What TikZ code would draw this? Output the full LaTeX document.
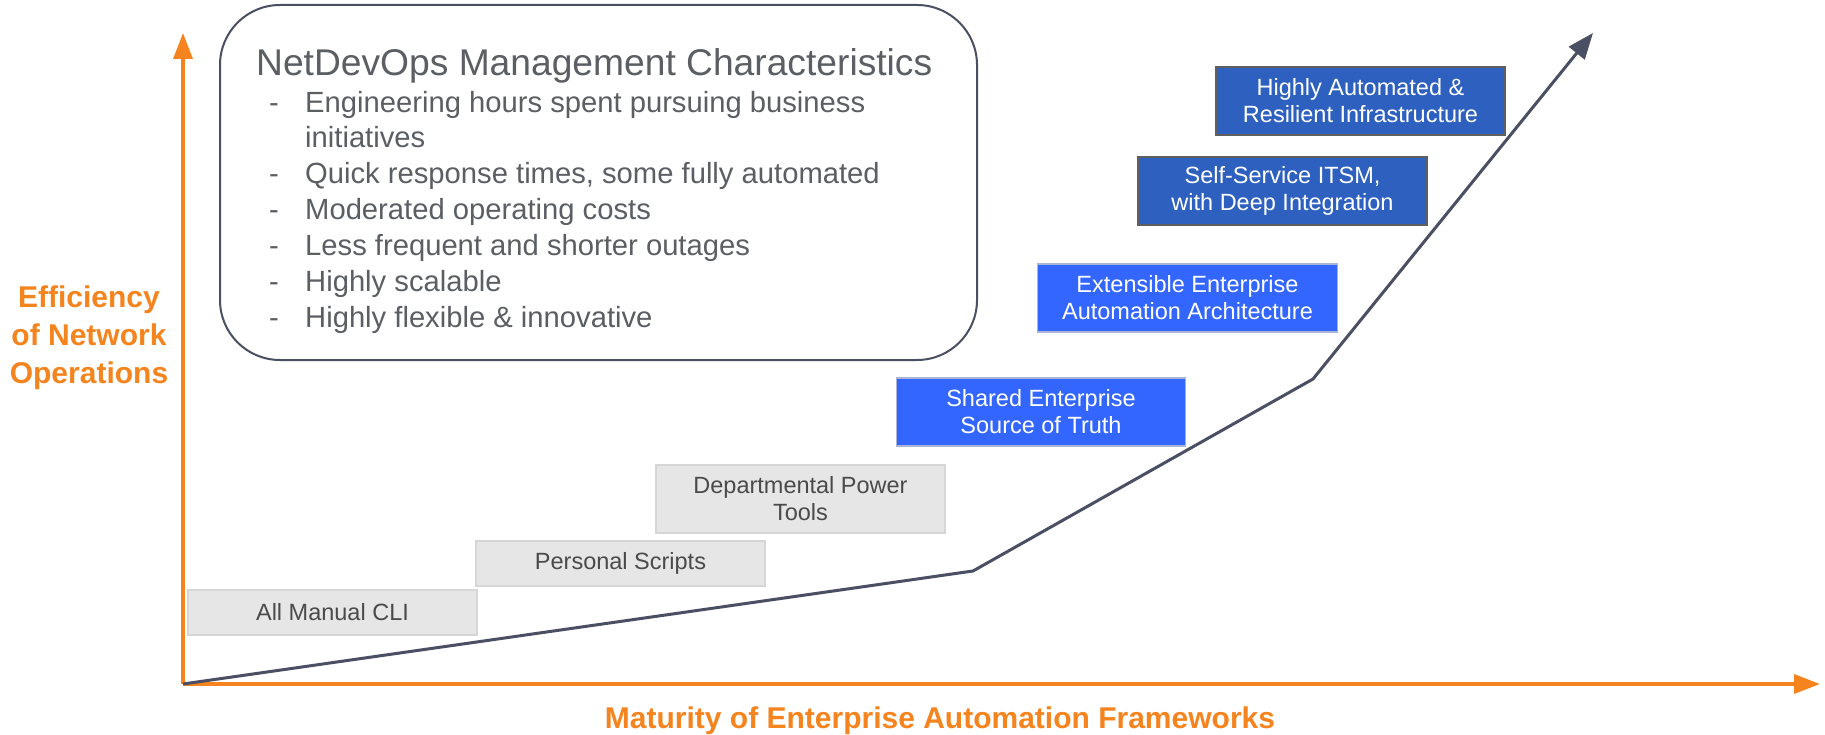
\documentclass[tikz,border=0pt]{standalone}
\usepackage{fontspec}
\setmainfont{Liberation Sans}
\usetikzlibrary{arrows.meta,positioning}
\definecolor{axisorange}{HTML}{F5841F}
\definecolor{curvegray}{HTML}{4B4F63}
\definecolor{textgray}{HTML}{4A4A4A}
\definecolor{listgray}{HTML}{5B5E63}
\definecolor{stagefill}{HTML}{E6E6E6}
\definecolor{stageedge}{HTML}{D6D6D6}
\definecolor{brightblue}{HTML}{3366FF}
\definecolor{brightedge}{HTML}{A9B4D6}
\definecolor{deepblue}{HTML}{2E61BF}
\definecolor{deepedge}{HTML}{5F5F5F}

\begin{document}
\begin{tikzpicture}
  [x=1pt, y=-1pt,
   stage/.style={draw=stageedge, line width=1.5pt, fill=stagefill, text=textgray,
     minimum width=289pt, minimum height=45pt, inner sep=0pt, align=center,
     font=\fontsize{23.5}{27}\selectfont},
   tallstage/.style={stage, minimum height=68pt},
   brightstage/.style={tallstage, fill=brightblue, draw=brightedge, text=white},
   deepstage/.style={tallstage, fill=deepblue, draw=deepedge, text=white},
   charbox/.style={draw=curvegray, line width=2pt, rounded corners=60pt,
     minimum width=757pt, minimum height=355pt},
   axislabel/.style={text=axisorange, inner sep=0pt, align=center,
     font=\bfseries\fontsize{30}{38}\selectfont},
   listtext/.style={text=listgray, inner sep=0pt, font=\fontsize{29.2}{34}\selectfont},
   axis/.style={draw=axisorange, line width=3.5pt, -{Triangle[length=26pt,width=19pt]}},
   curve/.style={draw=curvegray, line width=3pt, -{Triangle[length=26pt,width=20pt]}}]
  \useasboundingbox[fill=white] (0,0) rectangle (1825,735);

  \coordinate (origin) at (183,684);
  \coordinate (ytip) at (183,33);
  \coordinate (xtip) at (1820,684);
  \coordinate (knee1) at (973,571);
  \coordinate (knee2) at (1313,379);
  \coordinate (ctip) at (1593,33);

  \node[charbox] (chars) at (598.5,182.5) {};
  \node[listtext, anchor=base west, font=\fontsize{37.2}{40}\selectfont] (title) at (256,76)
    {NetDevOps Management Characteristics};
  \foreach \txt/\y [count=\i] in {{Engineering hours spent pursuing business}/112.5,
      {Quick response times, some fully automated}/184,
      {Moderated operating costs}/219.8,
      {Less frequent and shorter outages}/255.6,
      {Highly scalable}/291.4,
      {Highly flexible \& innovative}/327.2}
  {
    \node[listtext, anchor=base west] (dash\i) at (269,\y) {-};
    \node[listtext, anchor=base west] (item\i) at (305,\y) {\txt};
  }
  \node[listtext, anchor=base west] (item1b) at (305,147.5) {initiatives};

  \node[stage] (manual) at (332.5,612.5) {All Manual CLI};
  \node[stage] (scripts) at (620.5,563.5) {Personal Scripts};
  \node[tallstage] (power) at (800.5,499) {Departmental Power\\Tools};
  \node[brightstage] (truth) at (1041,412) {Shared Enterprise\\Source of Truth};
  \node[brightstage, minimum width=300pt] (arch) at (1187.5,298) {Extensible Enterprise\\Automation Architecture};
  \node[deepstage] (itsm) at (1282.5,191) {Self-Service ITSM,\\with Deep Integration};
  \node[deepstage] (infra) at (1360.5,101) {Highly Automated \&\\Resilient Infrastructure};

  \draw[axis] (origin) -- (ytip);
  \draw[axis] (origin) -- (xtip);
  \draw[curve, line join=miter] (origin) -- (knee1) -- (knee2) -- (ctip);

  \node[axislabel, anchor=north] (ylabel) at (89,286) {Efficiency\\of Network\\Operations};
  \node[axislabel, anchor=base] (xlabel) at (940,728) {Maturity of Enterprise Automation Frameworks};
\end{tikzpicture}
\end{document}
